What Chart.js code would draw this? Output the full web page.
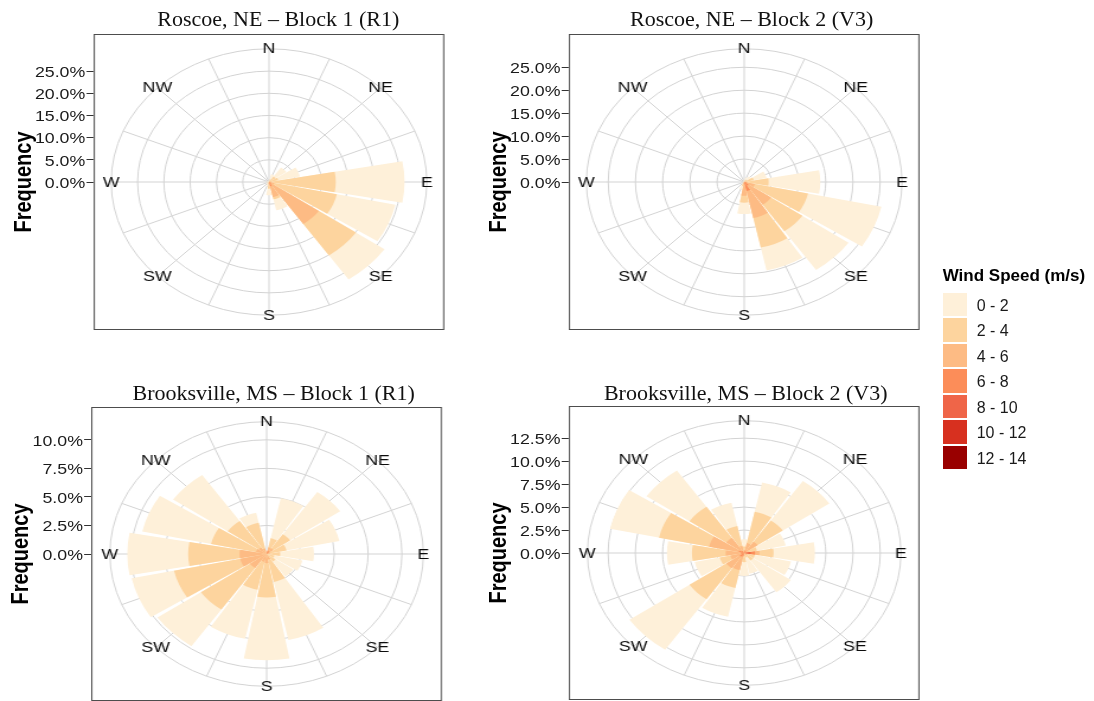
<!DOCTYPE html>
<html lang="en">
<head>
<meta charset="utf-8">
<title>Wind roses – Roscoe, NE and Brooksville, MS</title>
<script src="https://cdn.jsdelivr.net/npm/chart.js@4.4.1/dist/chart.umd.min.js"></script>
<style>
  html, body { margin: 0; padding: 0; background: #fff; }
  body { position: relative; width: 1094px; height: 701px; overflow: hidden; font-family: "Liberation Sans", Arial, sans-serif; }
  /* the four rose panels are drawn square and widened as a group */
  #roses { position: absolute; left: 0; top: 0; width: 924px; height: 701px; transform: scaleX(1.185); transform-origin: 0 0; }
  #roses canvas { position: absolute; }
  .frame { position: absolute; box-sizing: border-box; border: 1.4px solid #4d4d4d; pointer-events: none; }
  .tick-label { position: absolute; width: 60px; text-align: right; font-size: 15px; line-height: 15px; color: #1a1a1a; white-space: nowrap; }
  .tick-mark { position: absolute; width: 6px; height: 1px; background: #333; }
  .axis-title { position: absolute; width: 160px; height: 24px; line-height: 24px; text-align: center; font-weight: bold; font-size: 20px; color: #000; transform: rotate(-90deg); }
  .panel-title { position: absolute; white-space: nowrap; font-family: "Liberation Serif", "Times New Roman", serif; font-size: 22px; line-height: 22px; color: #111; transform: translateX(-50%); }
  .legend-title { position: absolute; white-space: nowrap; font-weight: bold; font-size: 17px; line-height: 17px; color: #000; }
  .legend-key { position: absolute; width: 24px; height: 23.5px; }
  .legend-text { position: absolute; white-space: nowrap; font-size: 16px; line-height: 16px; color: #1a1a1a; }
</style>
</head>
<body>
<div id="roses"></div>
<div id="overlay"></div>
<script>
// ---- categories ----
const directions = ['N','NNE','NE','ENE','E','ESE','SE','SSE','S','SSW','SW','WSW','W','WNW','NW','NNW'];
const compassLabels = ['N','','NE','','E','','SE','','S','','SW','','W','','NW',''];
const speedBins = ['0 - 2','2 - 4','4 - 6','6 - 8','8 - 10','10 - 12','12 - 14'];
const speedColors = ['#fef0d9','#fdd49e','#fdbb84','#fc8d59','#ef6548','#d7301f','#990000'];

// ---- frequency (%) by direction, one array per wind-speed class ----
// Roscoe, NE – Block 1 (R1)
const roscoeR1_0to2 = [0.3, 1.2, 2.5, 4.2, 13.1, 11.4, 6.6, 2.5, 1.5, 0.6, 0.4, 0.3, 0.3, 0.3, 0.3, 0.3];
const roscoeR1_2to4 = [0.0, 0.6, 1.5, 1.5, 12.2, 12.2, 8.6, 0.5, 1.0, 0.4, 0.2, 0.0, 0.2, 0.0, 0.0, 0.0];
const roscoeR1_4to6 = [0.0, 0.0, 0.0, 0.3, 0.3, 0.7, 11.0, 2.5, 0.5, 0.0, 0.0, 0.0, 0.0, 0.0, 0.0, 0.0];
const roscoeR1_6to8 = [0.0, 0.0, 0.0, 0.0, 0.2, 0.3, 0.5, 1.0, 0.0, 0.0, 0.0, 0.0, 0.0, 0.0, 0.0, 0.0];
// Roscoe, NE – Block 2 (V3)
const roscoeV3_0to2 = [0.3, 0.6, 0.9, 2.4, 9.5, 13.8, 10.3, 5.1, 2.5, 0.8, 0.3, 0.3, 0.3, 0.2, 0.2, 0.2];
const roscoeV3_2to4 = [0.2, 0.4, 0.6, 1.5, 4.0, 10.0, 7.0, 6.6, 1.5, 0.6, 0.2, 0.0, 0.0, 0.0, 0.0, 0.1];
const roscoeV3_4to6 = [0.0, 0.0, 0.0, 0.3, 0.5, 1.5, 5.0, 6.0, 2.5, 0.3, 0.0, 0.0, 0.0, 0.0, 0.0, 0.0];
const roscoeV3_6to8 = [0.0, 0.0, 0.0, 0.0, 0.0, 0.5, 1.0, 2.0, 0.5, 0.0, 0.0, 0.0, 0.0, 0.0, 0.0, 0.0];
// Brooksville, MS – Block 1 (R1)
const brooksR1_0to2 = [0.2, 3.6, 4.5, 4.0, 2.5, 2.1, 1.6, 5.2, 5.5, 4.4, 3.9, 3.2, 4.5, 5.2, 4.9, 0.9];
const brooksR1_2to4 = [0.1, 0.8, 1.5, 1.2, 1.0, 0.6, 0.8, 2.0, 3.0, 2.5, 4.4, 5.0, 3.8, 3.4, 2.8, 2.3];
const brooksR1_4to6 = [0.0, 0.3, 0.4, 0.3, 0.0, 0.0, 0.0, 0.5, 0.8, 0.7, 1.5, 2.0, 2.0, 0.8, 0.7, 0.5];
const brooksR1_6to8 = [0.0, 0.3, 0.2, 0.0, 0.0, 0.0, 0.0, 0.0, 0.0, 0.0, 0.0, 0.0, 0.0, 0.0, 0.0, 0.0];
// Brooksville, MS – Block 2 (V3)
const brooksV3_0to2  = [0.8, 3.25, 5.2, 2.7, 3.8, 3.4, 4.2, 1.8, 1.5, 3.2, 6.7, 2.35, 2.3, 4.6, 4.8, 2.6];
const brooksV3_2to4  = [0.5, 3.5, 2.8, 0.8, 1.3, 0.7, 0.7, 0.5, 0.7, 2.0, 4.1, 1.0, 3.1, 4.7, 4.1, 2.2];
const brooksV3_4to6  = [0.2, 0.8, 1.3, 0.4, 0.4, 0.3, 0.3, 0.0, 0.3, 1.5, 1.5, 1.0, 1.4, 2.8, 1.7, 0.8];
const brooksV3_6to8  = [0.0, 0.3, 0.2, 0.0, 0.4, 0.0, 0.0, 0.0, 0.0, 0.4, 0.5, 0.3, 0.3, 0.5, 0.3, 0.0];
const brooksV3_8to10 = [0.0, 0.0, 0.0, 0.0, 0.6, 0.0, 0.0, 0.0, 0.0, 0.0, 0.0, 0.0, 0.0, 0.0, 0.0, 0.0];

// ---- radial tick labels (%) ----
const roscoeTicks = [0, 5, 10, 15, 20, 25];
const brooksR1Ticks = [0, 2.5, 5, 7.5, 10];
const brooksV3Ticks = [0, 2.5, 5, 7.5, 10, 12.5];

// ---- panel layout (unstretched pixels) ----
const panels = [
  { title: 'Roscoe, NE – Block 1 (R1)',      bins: [roscoeR1_0to2, roscoeR1_2to4, roscoeR1_4to6, roscoeR1_6to8], ticks: roscoeTicks,
    left: 79,  top: 34,  w: 296, h: 296, titleX: 278.3, titleTop: 8.3 },
  { title: 'Roscoe, NE – Block 2 (V3)',      bins: [roscoeV3_0to2, roscoeV3_2to4, roscoeV3_4to6, roscoeV3_6to8], ticks: roscoeTicks,
    left: 480, top: 34,  w: 296, h: 296, titleX: 751.7, titleTop: 7.6 },
  { title: 'Brooksville, MS – Block 1 (R1)', bins: [brooksR1_0to2, brooksR1_2to4, brooksR1_4to6, brooksR1_6to8], ticks: brooksR1Ticks,
    left: 77,  top: 407, w: 296, h: 294, titleX: 273.7, titleTop: 382.3 },
  { title: 'Brooksville, MS – Block 2 (V3)', bins: [brooksV3_0to2, brooksV3_2to4, brooksV3_4to6, brooksV3_6to8, brooksV3_8to10], ticks: brooksV3Ticks,
    left: 480, top: 406, w: 296, h: 294, titleX: 745.7, titleTop: 381.6 }
];

const GAP = 1.6;                         // degrees of white space between neighbouring wedges
const SECTOR = 360 / directions.length;  // 22.5 degrees per direction
const GRID = '#d3d3d3';

// stack the classes: fastest class at the centre, 0 - 2 m/s on the rim
function cumulative(bins) {
  const out = bins.map(() => new Array(directions.length).fill(0));
  for (let i = 0; i < directions.length; i++) {
    let run = 0;
    for (let k = bins.length - 1; k >= 0; k--) { run += bins[k][i]; out[k][i] = run; }
  }
  return out;
}
// each direction wedge is followed by a thin empty slot that forms the gap
function withGaps(values) { const r = []; values.forEach(v => r.push(v, 0)); return r; }
const wedgeLabels = withGaps(directions).map((v, i) => (i % 2 ? '' : v));

const compassPlugin = {
  id: 'compass',
  beforeDatasetsDraw(chart, args, opts) {
    const s = chart.scales.r, ctx = chart.ctx;
    const R = s.getDistanceFromCenterForValue(opts.rim);
    ctx.save();
    ctx.strokeStyle = GRID;
    ctx.lineWidth = 1;
    directions.forEach((d, i) => {
      const a = (i * SECTOR - 90) * Math.PI / 180;
      ctx.beginPath();
      ctx.moveTo(s.xCenter, s.yCenter);
      ctx.lineTo(s.xCenter + R * Math.cos(a), s.yCenter + R * Math.sin(a));
      ctx.stroke();
    });
    ctx.restore();
  },
  afterDraw(chart, args, opts) {
    const s = chart.scales.r, ctx = chart.ctx;
    const R = s.getDistanceFromCenterForValue(opts.rim);
    ctx.save();
    ctx.font = '15px "Liberation Sans", Arial, sans-serif';
    ctx.fillStyle = '#0d0d0d';
    ctx.textAlign = 'center';
    ctx.textBaseline = 'middle';
    compassLabels.forEach((t, i) => {
      if (!t) return;
      const a = (i * SECTOR - 90) * Math.PI / 180;
      ctx.fillText(t, s.xCenter + R * Math.cos(a), s.yCenter + R * Math.sin(a) + 0.5);
    });
    ctx.restore();
  }
};

const roses = document.getElementById('roses');
const overlay = document.getElementById('overlay');

panels.forEach(p => {
  const stacks = cumulative(p.bins);
  const rangeMax = Math.max(...stacks[0]);          // longest bar reaches 0.4 of the panel
  const unit = 0.4 * p.h / rangeMax;                // pixels per percent
  const scaleMax = (Math.min(p.w, p.h) / 2) / unit;
  const rim = 1.125 * rangeMax;                     // outer ring, where the compass labels sit

  const datasets = [];
  for (let k = p.bins.length - 1; k >= 0; k--) {
    datasets.push({
      label: speedBins[k],
      data: withGaps(stacks[k]),
      backgroundColor: speedColors[k],
      borderWidth: 0,
      angle: c => (c.dataIndex % 2 ? GAP : SECTOR - GAP)
    });
  }

  const canvas = document.createElement('canvas');
  canvas.width = p.w; canvas.height = p.h;
  canvas.style.left = p.left + 'px'; canvas.style.top = p.top + 'px';
  roses.appendChild(canvas);

  const chart = new Chart(canvas, {
    type: 'polarArea',
    data: { labels: wedgeLabels, datasets },
    options: {
      responsive: false,
      animation: false,
      events: [],
      layout: { padding: 0 },
      elements: { arc: { borderWidth: 0 } },
      plugins: { legend: { display: false }, tooltip: { enabled: false }, compass: { rim } },
      scales: {
        r: {
          min: 0,
          max: scaleMax,
          startAngle: -SECTOR / 2 + GAP / 2,
          ticks: { display: false },
          pointLabels: { display: false },
          angleLines: { display: false },
          grid: { circular: true, color: GRID, lineWidth: 1 },
          afterBuildTicks: s => { s.ticks = p.ticks.concat([rim]).map(v => ({ value: v })); }
        }
      }
    },
    plugins: [compassPlugin]
  });

  const frame = document.createElement('div');
  frame.className = 'frame';
  Object.assign(frame.style, { left: p.left + 'px', top: p.top + 'px', width: p.w + 'px', height: p.h + 'px' });
  roses.appendChild(frame);

  // radial axis: labels and ticks on the left edge, placed from the chart's own scale
  const s = chart.scales.r;
  p.ticks.forEach(v => {
    const y = p.top + s.yCenter - s.getDistanceFromCenterForValue(v);
    const lab = document.createElement('div');
    lab.className = 'tick-label';
    lab.textContent = v.toFixed(1) + '%';
    lab.style.left = (p.left - 7 - 60) + 'px';
    lab.style.top = (y - 7.3) + 'px';
    roses.appendChild(lab);
    const mark = document.createElement('div');
    mark.className = 'tick-mark';
    mark.style.left = (p.left - 6) + 'px';
    mark.style.top = (y - 0.5) + 'px';
    roses.appendChild(mark);
  });

  const yTitle = document.createElement('div');
  yTitle.className = 'axis-title';
  yTitle.textContent = 'Frequency';
  yTitle.style.left = (p.left - 60 - 80) + 'px';
  yTitle.style.top = (p.top + s.yCenter - 12) + 'px';
  roses.appendChild(yTitle);

  const t = document.createElement('div');
  t.className = 'panel-title';
  t.textContent = p.title;
  t.style.left = p.titleX + 'px';
  t.style.top = p.titleTop + 'px';
  overlay.appendChild(t);
});

// ---- legend ----
const legendTitle = document.createElement('div');
legendTitle.className = 'legend-title';
legendTitle.textContent = 'Wind Speed (m/s)';
legendTitle.style.left = '942.7px';
legendTitle.style.top = '266.6px';
overlay.appendChild(legendTitle);
speedBins.forEach((b, k) => {
  const top = 292.5 + 25.5 * k;
  const key = document.createElement('div');
  key.className = 'legend-key';
  key.style.left = '942.7px';
  key.style.top = top + 'px';
  key.style.background = speedColors[k];
  overlay.appendChild(key);
  const txt = document.createElement('div');
  txt.className = 'legend-text';
  txt.textContent = b;
  txt.style.left = '976.7px';
  txt.style.top = (top + 11.75 + 1.5 - 7.8) + 'px';
  overlay.appendChild(txt);
});
</script>
</body>
</html>
